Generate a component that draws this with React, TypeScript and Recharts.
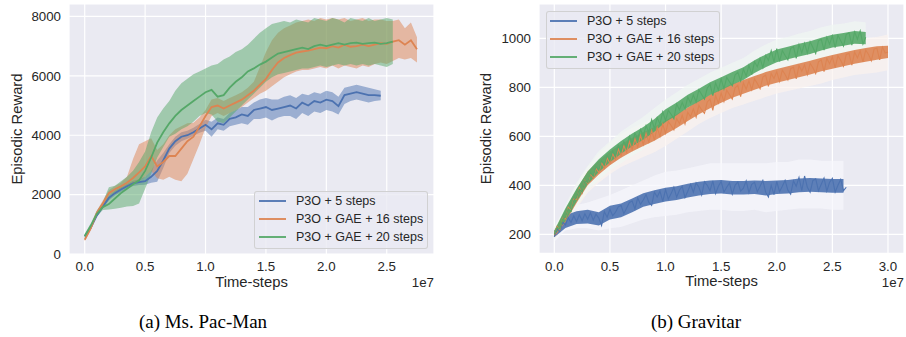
import React from 'react';
import { ComposedChart, Line, Area, XAxis, YAxis, CartesianGrid, Legend } from 'recharts';

const FONT = '"Liberation Sans", Arial, Helvetica, sans-serif';
const SERIF = '"Liberation Serif", "Times New Roman", serif';
const TEXT = '#262626';
const BG = '#EAEAF2';

const seriesNames = ['P3O + 5 steps', 'P3O + GAE + 16 steps', 'P3O + GAE + 20 steps'];
const seriesColors = ['#4C72B0', '#DD8452', '#55A868'];
const captions = ['(a) Ms. Pac-Man', '(b) Gravitar'];
const xLabel = 'Time-steps';
const yLabel = 'Episodic Reward';
const xScaleNote = '1e7';

// ---------- Ms. Pac-Man (x in units of 1e7, step 0.05) ----------
const pacXTicks = [0, 0.5, 1.0, 1.5, 2.0, 2.5];
const pacYTicks = [0, 2000, 4000, 6000, 8000];

const pacBlue = [
  600, 880, 1300, 1600, 1890, 2050, 2170, 2280, 2380, 2420,
  2450, 2600, 2800, 3150, 3550, 3800, 3950, 4000, 4100, 4230,
  4350, 4200, 4400, 4350, 4550, 4600, 4700, 4650, 4850, 4900,
  4950, 4850, 4900, 4950, 5000, 4900, 5100, 5000, 5150, 5100,
  5200, 5150, 4980, 5350, 5400, 5450, 5400, 5350, 5350, 5330,
];
const pacBlueLo = [
  550, 830, 1240, 1530, 1810, 1970, 2090, 2200, 2290, 2320,
  2330, 2400, 2430, 2900, 3400, 3650, 3800, 3880, 3980, 4080,
  4150, 3950, 4200, 4150, 4300, 4350, 4400, 4350, 4550, 4550,
  4600, 4500, 4600, 4650, 4650, 4550, 4750, 4650, 4800, 4750,
  4850, 4800, 4700, 5050, 5150, 5200, 5150, 5100, 5150, 5180,
];
const pacBlueHi = [
  660, 940, 1380, 1680, 1970, 2130, 2250, 2360, 2470, 2520,
  2600, 2800, 3150, 3400, 3700, 3950, 4100, 4150, 4250, 4380,
  4520, 4450, 4600, 4550, 4750, 4850, 4950, 4950, 5100, 5200,
  5250, 5200, 5200, 5300, 5350, 5250, 5400, 5350, 5450, 5400,
  5500, 5450, 5300, 5600, 5650, 5700, 5650, 5600, 5550, 5500,
];

const pacOrange = [
  480, 860, 1380, 1700, 2050, 2180, 2280, 2400, 2560, 2750,
  2950, 3300, 2950, 3100, 3300, 3300, 3550, 3800, 3950, 4300,
  4650, 4950, 5000, 4900, 5000, 5100, 5200, 5350, 5500, 5700,
  5900, 6200, 6450, 6600, 6700, 6780, 6820, 6850, 6900, 6950,
  6930, 7000, 6950, 7050, 6980, 7000, 7050, 7000, 7050, 7100,
  7080, 7150, 7200, 7050, 7200, 6900,
];
const pacOrangeLo = [
  430, 810, 1310, 1620, 1950, 2080, 2170, 2280, 2350, 2450,
  2600, 2800, 2550, 2500, 2600, 2500, 2450, 2700, 3200, 3700,
  4250, 4650, 4750, 4650, 4750, 4850, 4950, 5100, 5250, 5400,
  5500, 5650, 5800, 5950, 6050, 6150, 6200, 6200, 6250, 6300,
  6250, 6350, 6250, 6350, 6300, 6250, 6350, 6300, 6400, 6450,
  6400, 6500, 6600, 6550, 6600, 6450,
];
const pacOrangeHi = [
  540, 930, 1460, 1800, 2150, 2290, 2400, 2600, 3200, 3700,
  3800, 3900, 3500, 3700, 4000, 4200, 4300, 4400, 4420, 4600,
  4850, 5200, 5250, 5150, 5250, 5350, 5450, 5600, 5800, 6300,
  6800, 7200, 7450, 7600, 7700, 7800, 7850, 7900, 7850, 7950,
  7900, 7950, 7900, 7950, 7850, 7900, 7950, 7850, 7900, 7900,
  7850, 7850, 7900, 7600, 7800, 7300,
];

const pacGreen = [
  600, 950, 1350, 1580, 1680, 1870, 2050, 2200, 2350, 2480,
  2800, 3250, 3750, 4100, 4400, 4650, 4850, 5000, 5150, 5300,
  5450, 5530, 5300, 5350, 5600, 5800, 5950, 6150, 6250, 6380,
  6480, 6620, 6750, 6800, 6850, 6900, 6950, 6900, 7000, 7050,
  7000, 7050, 7100, 7050, 7100, 7120, 7080, 7100, 7120, 7080,
  7100, 7150,
];
const pacGreenLo = [
  550, 880, 1260, 1480, 1500, 1520, 1560, 1600, 1620, 1700,
  2200, 2700, 3250, 3600, 3950, 4050, 4200, 4300, 4450, 4650,
  4750, 4700, 4450, 4400, 4600, 4800, 5000, 5200, 5400, 5600,
  5800, 5950, 6050, 6100, 6150, 6200, 6250, 6250, 6300, 6350,
  6300, 6350, 6400, 6350, 6400, 6350, 6400, 6350, 6400, 6350,
  6300, 6400,
];
const pacGreenHi = [
  680, 1030, 1460, 1750, 2250, 2300, 2450, 2600, 2800, 3100,
  3450, 4100, 4600, 4900, 5150, 5500, 5750, 5900, 6050, 6150,
  6250, 6350, 6400, 6550, 6650, 6800, 6900, 7050, 7250, 7450,
  7600, 7750, 7800, 7850, 7800, 7900, 7850, 7800, 7950, 7900,
  7850, 7950, 7900, 7800, 7950, 7900, 7850, 7950, 7850, 7900,
  7950, 7900,
];

// ---------- Gravitar (x in units of 1e7, step 0.025; bands every 0.1) ----------
const gravXTicks = [0, 0.5, 1.0, 1.5, 2.0, 2.5, 3.0];
const gravYTicks = [200, 400, 600, 800, 1000];

const gravBlue = [
  190, 222, 212, 250, 238, 268, 248, 275, 252, 280,
  255, 284, 262, 288, 258, 282, 266, 236, 292, 270,
  302, 276, 290, 312, 318, 284, 306, 330, 336, 304,
  348, 322, 340, 362, 330, 318, 372, 352, 376, 334,
  382, 344, 366, 392, 352, 380, 396, 350, 376, 404,
  372, 410, 392, 360, 414, 400, 378, 418, 366, 396,
  416, 372, 392, 410, 364, 400, 414, 376, 388, 418,
  370, 404, 412, 374, 396, 420, 372, 352, 400, 362,
  416, 374, 396, 420, 380, 364, 418, 396, 432, 378,
  438, 392, 372, 420, 426, 378, 404, 430, 376, 412,
  428, 372, 400, 424, 378, 392,
];
const gravGreen = [
  200, 228, 222, 262, 270, 304, 292, 338, 350, 384,
  372, 418, 412, 452, 438, 476, 462, 500, 484, 522,
  502, 540, 518, 562, 540, 578, 556, 600, 572, 612,
  590, 628, 600, 644, 616, 668, 632, 676, 650, 700,
  664, 706, 690, 672, 732, 708, 738, 712, 760, 736,
  768, 740, 790, 770, 752, 796, 812, 766, 818, 788,
  834, 794, 840, 822, 806, 850, 862, 826, 874, 846,
  890, 852, 904, 884, 918, 880, 930, 910, 950, 904,
  958, 906, 950, 930, 912, 958, 966, 918, 974, 940,
  980, 940, 986, 962, 938, 990, 996, 952, 1004, 976,
  1010, 962, 1012, 990, 968, 1016, 1022, 972, 1026, 996,
  1030, 976, 1004,
];
const gravOrange = [
  198, 232, 218, 266, 262, 310, 296, 344, 342, 390,
  368, 420, 408, 448, 430, 470, 452, 494, 470, 512,
  490, 530, 506, 548, 520, 562, 534, 578, 546, 590,
  556, 604, 566, 612, 576, 624, 584, 636, 600, 650,
  612, 660, 644, 626, 672, 652, 686, 650, 698, 680,
  712, 678, 726, 708, 694, 740, 752, 706, 766, 736,
  776, 742, 788, 770, 752, 798, 808, 762, 818, 792,
  826, 790, 834, 816, 794, 842, 850, 804, 856, 836,
  864, 824, 870, 852, 830, 876, 882, 834, 888, 866,
  892, 852, 898, 880, 856, 904, 912, 864, 918, 896,
  924, 880, 928, 910, 886, 934, 938, 890, 944, 920,
  948, 904, 952, 934, 908, 956, 960, 912, 964, 940,
  944,
];
// wide (faint) spread, sampled every 0.1e7
const gravBlueLo = [170, 215, 225, 225, 215, 225, 230, 245, 260, 270, 275, 280, 290, 295, 300, 300, 295, 295, 300, 290, 295, 300, 305, 305, 305, 300, 300];
const gravBlueHi = [230, 300, 320, 330, 345, 360, 380, 400, 420, 440, 455, 460, 470, 480, 490, 490, 490, 490, 490, 490, 495, 495, 505, 505, 500, 500, 500];
const gravOrangeLo = [180, 235, 305, 370, 410, 445, 475, 495, 515, 535, 560, 590, 620, 650, 675, 695, 715, 730, 745, 760, 775, 785, 795, 805, 815, 830, 840, 850, 855, 860, 870];
const gravOrangeHi = [225, 310, 400, 475, 530, 575, 610, 635, 655, 675, 700, 730, 760, 790, 815, 835, 855, 870, 885, 900, 915, 925, 935, 945, 960, 970, 980, 990, 1000, 1005, 1015];
const gravGreenLo = [180, 240, 310, 380, 420, 460, 490, 520, 545, 580, 610, 640, 670, 695, 720, 740, 760, 780, 810, 835, 855, 865, 880, 890, 900, 915, 920, 930, 925];
const gravGreenHi = [230, 320, 410, 480, 540, 580, 620, 650, 680, 715, 750, 780, 810, 835, 860, 880, 900, 920, 950, 975, 995, 1005, 1020, 1030, 1045, 1055, 1060, 1070, 1065];
// dense core of the noisy curves, sampled every 0.1e7
const gravBlueCoreLo = [188, 226, 242, 244, 236, 260, 270, 290, 312, 324, 334, 340, 350, 358, 364, 366, 362, 362, 364, 358, 364, 366, 372, 374, 372, 370, 370];
const gravBlueCoreHi = [214, 278, 294, 300, 290, 316, 326, 346, 368, 380, 390, 396, 406, 414, 420, 422, 418, 418, 420, 418, 420, 422, 428, 430, 428, 426, 426];
const gravOrangeCoreLo = [188, 250, 328, 400, 444, 482, 512, 538, 560, 582, 608, 634, 662, 690, 714, 737, 757, 774, 790, 806, 819, 830, 841, 852, 865, 876, 886, 896, 904, 912, 920];
const gravOrangeCoreHi = [212, 300, 382, 456, 500, 538, 568, 594, 616, 638, 664, 690, 718, 746, 770, 793, 813, 830, 846, 862, 875, 886, 897, 908, 921, 932, 942, 952, 960, 968, 970];
const gravGreenCoreLo = [195, 254, 334, 404, 454, 494, 529, 559, 586, 619, 658, 686, 718, 742, 769, 789, 810, 830, 858, 882, 902, 914, 926, 936, 950, 962, 970, 978, 976];
const gravGreenCoreHi = [215, 306, 386, 456, 506, 546, 581, 611, 638, 671, 710, 738, 770, 794, 821, 841, 862, 882, 910, 934, 954, 966, 978, 988, 1002, 1014, 1022, 1030, 1026];

// ---------- tables ----------
const grid = (step: number, count: number) =>
  Array.from({ length: count }, (_, i) => Math.round(i * step * 1000) / 1000);

const pacSteps = grid(0.05, 56);
const gravSteps = grid(0.025, 121);
const BAND_STRIDE = 4;

const band = (lo: number[], hi: number[], i: number) =>
  i >= 0 && i < lo.length ? [lo[i], hi[i]] : null;

const pacData = pacSteps.map((x, i) => ({
  x,
  s0: pacBlue[i] ?? null,
  b0: band(pacBlueLo, pacBlueHi, i),
  s1: pacOrange[i] ?? null,
  b1: band(pacOrangeLo, pacOrangeHi, i),
  s2: pacGreen[i] ?? null,
  b2: band(pacGreenLo, pacGreenHi, i),
}));

const gravData = gravSteps.map((x, i) => {
  const k = i % BAND_STRIDE === 0 ? i / BAND_STRIDE : -1;
  return {
    x,
    s0: gravBlue[i] ?? null,
    b0: band(gravBlueLo, gravBlueHi, k),
    c0: band(gravBlueCoreLo, gravBlueCoreHi, k),
    s1: gravOrange[i] ?? null,
    b1: band(gravOrangeLo, gravOrangeHi, k),
    c1: band(gravOrangeCoreLo, gravOrangeCoreHi, k),
    s2: gravGreen[i] ?? null,
    b2: band(gravGreenLo, gravGreenHi, k),
    c2: band(gravGreenCoreLo, gravGreenCoreHi, k),
  };
});

const LegendBox = ({ textLeft, lineLeft }: { textLeft: number; lineLeft: number }) => (
  <div
    style={{
      width: 174,
      height: 58,
      boxSizing: 'border-box',
      background: 'rgba(234,234,242,0.8)',
      border: '1px solid rgba(204,204,204,0.85)',
      borderRadius: 3,
      position: 'relative',
      fontFamily: FONT,
      fontSize: 12.5,
      color: TEXT,
    }}
  >
    {seriesNames.map((n, i) => (
      <div
        key={n}
        style={{ position: 'absolute', left: 0, top: 0 + i * 18, height: 18, width: 174 }}
      >
        <span
          style={{
            position: 'absolute',
            left: lineLeft,
            top: 8,
            width: 27,
            height: 2,
            background: seriesColors[i],
            opacity: 0.9,
          }}
        />
        <span
          style={{
            position: 'absolute',
            left: textLeft,
            top: 0,
            lineHeight: '18px',
            whiteSpace: 'nowrap',
          }}
        >
          {n}
        </span>
      </div>
    ))}
  </div>
);

type PanelProps = {
  data: any[];
  width: number;
  height: number;
  margin: { top: number; right: number; bottom: number; left: number };
  xDomain: [number, number];
  yDomain: [number, number];
  xTicks: number[];
  yTicks: number[];
  bandFills: string[];
  bandOpacity: number;
  coreOpacity?: number;
  bandsFirst?: boolean;
  lineWidth: number;
  legendPos: { left: number; top: number };
  legendLineLeft: number;
  legendTextLeft: number;
};

const tickStyle = { fontSize: 13.3, fill: TEXT, fontFamily: FONT };

function Panel(p: PanelProps) {
  const series = [0, 1, 2];
  const bandEl = (i: number) => (
    <Area
      key={`band${i}`}
      dataKey={`b${i}`}
      type="linear"
      stroke="none"
      fill={p.bandFills[i]}
      fillOpacity={p.bandOpacity}
      connectNulls
      isAnimationActive={false}
      activeDot={false}
      legendType="none"
    />
  );
  const coreEl = (i: number) => (
    <Area
      key={`core${i}`}
      dataKey={`c${i}`}
      type="linear"
      stroke="none"
      fill={seriesColors[i]}
      fillOpacity={p.coreOpacity}
      connectNulls
      isAnimationActive={false}
      activeDot={false}
      legendType="none"
    />
  );
  const lineEl = (i: number) => (
    <Line
      key={`line${i}`}
      dataKey={`s${i}`}
      type="linear"
      stroke={seriesColors[i]}
      strokeWidth={p.lineWidth}
      dot={false}
      activeDot={false}
      isAnimationActive={false}
      name={seriesNames[i]}
    />
  );
  const marks: React.ReactNode[] = [];
  if (p.bandsFirst) {
    series.forEach((i) => marks.push(bandEl(i)));
    series.forEach((i) => {
      if (p.coreOpacity) marks.push(coreEl(i));
      marks.push(lineEl(i));
    });
  } else {
    series.forEach((i) => {
      marks.push(bandEl(i));
      if (p.coreOpacity) marks.push(coreEl(i));
      marks.push(lineEl(i));
    });
  }
  return (
    <ComposedChart width={p.width} height={p.height} data={p.data} margin={p.margin}>
      <CartesianGrid fill={BG} fillOpacity={1} stroke="#FFFFFF" strokeWidth={1.2} />
      <XAxis
        dataKey="x"
        type="number"
        domain={p.xDomain}
        ticks={p.xTicks}
        allowDataOverflow
        interval={0}
        tickFormatter={(v: number) => v.toFixed(1)}
        axisLine={false}
        tickLine={false}
        tickSize={0}
        tickMargin={8}
        height={34}
        tick={tickStyle}
        label={{ value: xLabel, position: 'insideBottom', offset: 1.5, fontSize: 14.8, fill: TEXT, fontFamily: FONT }}
      />
      <YAxis
        type="number"
        domain={p.yDomain}
        ticks={p.yTicks}
        allowDataOverflow
        interval={0}
        width={60}
        axisLine={false}
        tickLine={false}
        tickSize={0}
        tickMargin={8}
        tick={tickStyle}
        label={{
          content: (lp: any) => {
            const vb = lp.viewBox || { x: 0, y: 0, height: 0 };
            const cx = vb.x + 12.5;
            const cy = vb.y + vb.height / 2;
            return (
              <text
                x={cx}
                y={cy}
                transform={`rotate(-90 ${cx} ${cy})`}
                textAnchor="middle"
                fontSize={14.8}
                fill={TEXT}
                fontFamily={FONT}
              >
                {yLabel}
              </text>
            );
          },
        }}
      />
      {marks}
      <Legend
        layout="vertical"
        align="center"
        verticalAlign="middle"
        wrapperStyle={{ left: p.legendPos.left, top: p.legendPos.top, width: 174 }}
        content={() => <LegendBox lineLeft={p.legendLineLeft} textLeft={p.legendTextLeft} />}
      />
    </ComposedChart>
  );
}

export default function App() {
  return (
    <div style={{ position: 'absolute', left: 0, top: 0, width: 906, height: 337, background: '#fff' }}>
      <div style={{ position: 'absolute', left: 0, top: 0 }}>
        <Panel
          data={pacData}
          width={450}
          height={300}
          margin={{ top: 4, right: 16, bottom: 12, left: 9 }}
          xDomain={[-0.13, 2.891]}
          yDomain={[0, 8420]}
          xTicks={pacXTicks}
          yTicks={pacYTicks}
          bandFills={seriesColors}
          bandOpacity={0.5}
          lineWidth={1.8}
          legendPos={{ left: 254, top: 190.7 }}
          legendLineLeft={4.3}
          legendTextLeft={41}
        />
      </div>
      <div style={{ position: 'absolute', left: 450, top: 0 }}>
        <Panel
          data={gravData}
          width={456}
          height={300}
          margin={{ top: 4, right: 2, bottom: 12.7, left: 29 }}
          xDomain={[-0.1376, 3.144]}
          yDomain={[122.4, 1140]}
          xTicks={gravXTicks}
          yTicks={gravYTicks}
          bandFills={['#F6F7FC', '#FBF2EE', '#F0F7F2']}
          bandOpacity={0.7}
          coreOpacity={0.9}
          bandsFirst
          lineWidth={1.1}
          legendPos={{ left: 95.7, top: 10.7 }}
          legendLineLeft={3.6}
          legendTextLeft={40.3}
        />
      </div>
      <svg width={906} height={337} style={{ position: 'absolute', left: 0, top: 0, pointerEvents: 'none' }}>
        <text x={434} y={286.5} textAnchor="end" fontSize={13.3} fill={TEXT} fontFamily={FONT}>{xScaleNote}</text>
        <text x={904} y={287} textAnchor="end" fontSize={13.3} fill={TEXT} fontFamily={FONT}>{xScaleNote}</text>
        <text x={203} y={328} textAnchor="middle" fontSize={19} fill="#000" fontFamily={SERIF}>{captions[0]}</text>
        <text x={696} y={328} textAnchor="middle" fontSize={19} fill="#000" fontFamily={SERIF}>{captions[1]}</text>
      </svg>
    </div>
  );
}
